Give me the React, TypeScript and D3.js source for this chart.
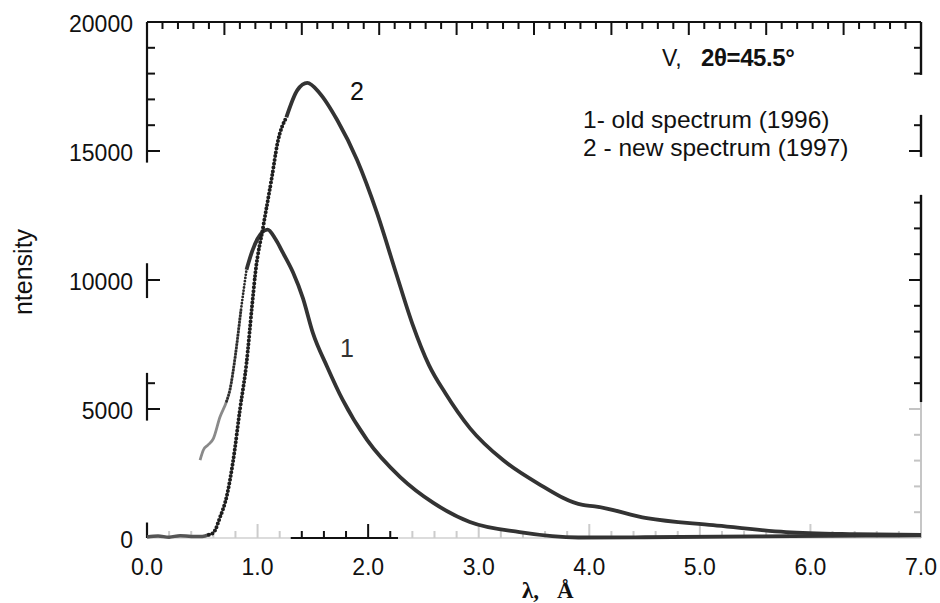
import React from 'react';
import * as d3 from 'd3';

// ---- data ----
const xTickValues = [0, 1, 2, 3, 4, 5, 6, 7];
const xTickLabels = ['0.0', '1.0', '2.0', '3.0', '4.0', '5.0', '6.0', '7.0'];
const yTickValues = [0, 5000, 10000, 15000, 20000];
const yTickLabels = ['0', '5000', '10000', '15000', '20000'];

// curve 1 - old spectrum (1996)
const oldLambda = [0.48, 0.51, 0.55, 0.6, 0.66, 0.72, 0.75, 0.8, 0.85, 0.9, 0.95, 1.0, 1.09, 1.16, 1.23, 1.32, 1.41, 1.5, 1.63, 1.77, 1.99, 2.29, 2.59, 2.92, 3.37, 3.9, 4.5, 5.5, 6.5, 7.0];
const oldIntensity = [3020, 3410, 3600, 3850, 4690, 5300, 5740, 7100, 8840, 10400, 11100, 11600, 11950, 11600, 11050, 10300, 9300, 7950, 6630, 5350, 3800, 2360, 1360, 620, 230, 20, 30, 60, 90, 100];

// curve 2 - new spectrum (1997)
const newLambda = [0.0, 0.1, 0.2, 0.3, 0.4, 0.5, 0.56, 0.6, 0.66, 0.72, 0.78, 0.84, 0.9, 0.95, 0.98, 1.05, 1.13, 1.18, 1.26, 1.36, 1.45, 1.56, 1.72, 1.9, 2.08, 2.25, 2.4, 2.55, 2.7, 2.92, 3.22, 3.53, 3.94, 4.05, 4.52, 5.12, 5.78, 6.4, 7.0];
const newIntensity = [40, 80, 30, 90, 60, 60, 130, 200, 800, 1600, 3020, 4960, 6780, 9000, 10270, 12050, 14000, 15300, 16300, 17360, 17640, 17250, 16200, 14650, 12600, 10300, 8300, 6700, 5600, 4260, 3020, 2130, 1280, 1230, 770, 500, 230, 150, 120];

// axis pieces that survive in the scanned figure (data units)
const leftAxisPieces = [[14550, 20000], [9300, 10650], [4550, 6400], [0, 600]];
const rightAxisDark = [[17950, 20000], [14770, 16400], [5270, 13300]];
const rightAxisFaint = [0, 5270];
const bottomAxisDark = [1.3, 2.27];

const W = 940;
const H = 603;
const SANS = '"Liberation Sans", Arial, Helvetica, sans-serif';
const SERIF = '"Liberation Serif", "Times New Roman", serif';
const INK = '#111';
const CURVE = '#333';

export default function App() {
  const x = d3.scaleLinear().domain([0, 7]).range([147, 921]);
  const y = d3.scaleLinear().domain([0, 20000]).range([538, 22]);

  const oldPts = oldLambda.map((l, i) => [l, oldIntensity[i]] as [number, number]);
  const newPts = newLambda.map((l, i) => [l, newIntensity[i]] as [number, number]);

  const line = d3
    .line<[number, number]>()
    .x((d) => x(d[0]))
    .y((d) => y(d[1]))
    .curve(d3.curveMonotoneX);

  const seg = (pts: [number, number][], a: number, b: number) =>
    line(pts.filter((p) => p[0] >= a - 1e-9 && p[0] <= b + 1e-9)) || '';

  const inPieces = (v: number, pieces: number[][]) => pieces.some(([a, b]) => v >= a && v <= b);

  const yMinor = d3.range(1000, 20001, 1000);
  const topTicks = d3.range(1, 50).map((k) => k * 0.14);
  const bottomTicks = d3.range(1, 35).map((k) => k * 0.2);

  return (
    <svg
      width={W}
      height={H}
      style={{ position: 'absolute', left: 0, top: 0, background: '#fff' }}
      xmlns="http://www.w3.org/2000/svg"
    >
      <rect x={0} y={0} width={W} height={H} fill="#fff" />

      {/* top border with ticks */}
      <g>
        <line x1={x(0)} x2={x(7)} y1={y(20000)} y2={y(20000)} stroke={INK} strokeWidth={2.2} />
        {topTicks.map((t, i) => (
          <rect
            key={'tt' + i}
            x={x(t) - 1}
            y={y(20000)}
            width={2}
            height={(i + 1) % 5 === 0 ? 13 : 7}
            fill={INK}
          />
        ))}
      </g>

      {/* left axis (broken in scan) */}
      <g>
        {leftAxisPieces.map(([a, b], i) => (
          <line key={'la' + i} x1={x(0)} x2={x(0)} y1={y(a)} y2={y(b)} stroke={INK} strokeWidth={2.2} />
        ))}
        {yMinor
          .filter((v) => inPieces(v, leftAxisPieces))
          .map((v) => (
            <rect
              key={'lt' + v}
              x={x(0)}
              y={y(v) - 1}
              width={v % 5000 === 0 ? 13 : 8}
              height={2}
              fill={INK}
            />
          ))}
      </g>

      {/* right axis */}
      <g>
        <line
          x1={x(7)}
          x2={x(7)}
          y1={y(rightAxisFaint[0])}
          y2={y(rightAxisFaint[1])}
          stroke="#b8b8b8"
          strokeWidth={1.6}
        />
        {rightAxisDark.map(([a, b], i) => (
          <line key={'ra' + i} x1={x(7)} x2={x(7)} y1={y(a)} y2={y(b)} stroke={INK} strokeWidth={2.4} />
        ))}
        {yMinor
          .filter((v) => inPieces(v, rightAxisDark) || (v >= rightAxisFaint[0] && v <= rightAxisFaint[1]))
          .map((v) => {
            const dark = inPieces(v, rightAxisDark);
            const len = v % 5000 === 0 ? 12 : 7;
            return (
              <rect
                key={'rt' + v}
                x={x(7) - len}
                y={y(v) - 1}
                width={len}
                height={2}
                fill={dark ? INK : '#c4c4c4'}
              />
            );
          })}
      </g>

      {/* bottom axis: faint, with a dark piece */}
      <g>
        <line x1={x(0)} x2={x(7)} y1={y(0)} y2={y(0)} stroke="#d0d0d0" strokeWidth={1.6} />
        <line
          x1={x(bottomAxisDark[0])}
          x2={x(bottomAxisDark[1])}
          y1={y(0)}
          y2={y(0)}
          stroke={INK}
          strokeWidth={2.2}
        />
        {bottomTicks.map((t, i) => {
          const dark = t >= bottomAxisDark[0] && t <= bottomAxisDark[1];
          const major = Math.abs(t - Math.round(t)) < 1e-6;
          const len = major ? 14 : 7;
          return (
            <rect
              key={'bt' + i}
              x={x(t) - 1}
              y={y(0) - len}
              width={2}
              height={len}
              fill={dark ? INK : '#cccccc'}
            />
          );
        })}
      </g>

      {/* y tick labels */}
      {yTickValues.map((v, i) => (
        <text
          key={'yl' + v}
          x={133}
          y={y(v) + 9.5}
          textAnchor="end"
          fontFamily={SANS}
          fontSize={23}
          fill="#111"
        >
          {yTickLabels[i]}
        </text>
      ))}

      {/* x tick labels */}
      {xTickValues.map((v, i) => (
        <text
          key={'xl' + v}
          x={x(v)}
          y={575}
          textAnchor="middle"
          fontFamily={SANS}
          fontSize={23}
          fill="#111"
        >
          {xTickLabels[i]}
        </text>
      ))}

      {/* axis titles */}
      <text
        transform="translate(32,272) rotate(-90)"
        textAnchor="middle"
        fontFamily={SANS}
        fontSize={25}
        fill="#111"
      >
        ntensity
      </text>
      <text y={598} fontFamily={SERIF} fontSize={23} fontWeight="bold" fill="#111">
        <tspan x={522}>λ,</tspan>
        <tspan x={557}>Å</tspan>
      </text>

      {/* curve 1 (old) */}
      <path d={seg(oldPts, 0.48, 0.85)} fill="none" stroke="#8a8a8a" strokeWidth={2.8} />
      <path
        d={seg(oldPts, 0.72, 0.9)}
        fill="none"
        stroke="#2a2a2a"
        strokeWidth={2.8}
        strokeDasharray="0 3.2"
        strokeLinecap="round"
      />
      <path d={seg(oldPts, 0.9, 7.0)} fill="none" stroke={CURVE} strokeWidth={3.8} strokeLinejoin="round" />

      {/* curve 2 (new) */}
      <path d={seg(newPts, 0.0, 0.56)} fill="none" stroke="#555" strokeWidth={3.4} />
      <path
        d={seg(newPts, 0.56, 1.26)}
        fill="none"
        stroke="#1e1e1e"
        strokeWidth={4}
        strokeDasharray="0 3.8"
        strokeLinecap="round"
      />
      <path d={seg(newPts, 1.26, 7.0)} fill="none" stroke={CURVE} strokeWidth={3.8} strokeLinejoin="round" />

      {/* curve labels */}
      <text x={357} y={100} textAnchor="middle" fontFamily={SANS} fontSize={25} fill="#111">
        2
      </text>
      <text x={347} y={357} textAnchor="middle" fontFamily={SANS} fontSize={25} fill="#333">
        1
      </text>

      {/* annotations */}
      <text y={66} fontFamily={SANS} fontSize={23} fill="#111">
        <tspan x={662}>V,</tspan>
        <tspan x={701} fontWeight="bold" fontSize={24} letterSpacing={-0.4}>
          2θ=45.5°
        </tspan>
      </text>
      <text x={583} y={128} fontFamily={SANS} fontSize={24.5} fill="#111">
        1- old spectrum (1996)
      </text>
      <text x={583} y={156} fontFamily={SANS} fontSize={24.5} fill="#111">
        2 - new spectrum (1997)
      </text>
    </svg>
  );
}
